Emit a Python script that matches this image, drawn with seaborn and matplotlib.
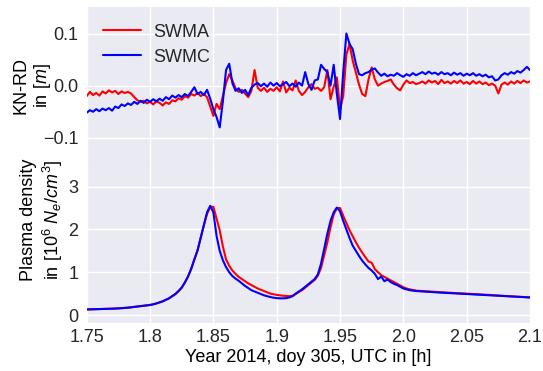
import numpy as np
import pandas as pd
import matplotlib
matplotlib.use("Agg")
import matplotlib.pyplot as plt
import seaborn as sns

# ---------------- data ----------------
time_h = np.linspace(1.75, 2.1, 141)  # UTC hours, uniform sampling

knrd_swma = [
    -0.020, -0.012, -0.018, -0.014, -0.019, -0.011, -0.015, -0.009, -0.013, -0.010,
    -0.016, -0.011, -0.014, -0.012, -0.015, -0.022, -0.028, -0.031, -0.029, -0.034,
    -0.031, -0.036, -0.030, -0.033, -0.038, -0.032, -0.035, -0.028, -0.030, -0.024,
    -0.027, -0.020, -0.023, -0.016, -0.019, -0.014, -0.020, -0.016, -0.022, -0.040,
    -0.058, -0.035, -0.045, -0.020, 0.005, 0.022, 0.010, -0.005, -0.012, -0.008,
    -0.015, -0.022, -0.010, 0.030, -0.004, -0.010, -0.004, -0.012, -0.006, -0.010,
    -0.003, -0.011, 0.008, -0.013, -0.004, -0.009, 0.010, -0.010, -0.018, -0.012,
    -0.003, 0.003, -0.006, -0.004, -0.010, -0.003, 0.030, -0.026, -0.002, 0.016,
    -0.045, -0.020, 0.060, 0.080, 0.048, 0.025, 0.002, -0.016, -0.020, 0.012,
    0.035, 0.012, 0.000, 0.004, 0.007, 0.009, 0.012, 0.002, -0.005, -0.009,
    0.002, 0.010, 0.005, 0.007, 0.003, 0.005, 0.008, 0.004, 0.010, 0.006,
    0.009, 0.003, 0.011, 0.005, 0.008, 0.004, 0.009, 0.005, 0.010, 0.004,
    0.007, 0.003, 0.009, 0.004, 0.008, 0.003, 0.006, 0.001, 0.004, 0.000,
    -0.015, 0.002, 0.006, 0.002, 0.008, 0.004, 0.009, 0.005, 0.010, 0.006, 0.008,
]

knrd_swmc = [
    -0.052, -0.047, -0.050, -0.045, -0.049, -0.044, -0.047, -0.043, -0.048, -0.040,
    -0.043, -0.036, -0.039, -0.034, -0.037, -0.031, -0.035, -0.029, -0.033, -0.027,
    -0.031, -0.026, -0.030, -0.025, -0.029, -0.022, -0.026, -0.019, -0.023, -0.018,
    -0.022, -0.016, -0.020, -0.012, -0.003, -0.016, -0.012, -0.018, -0.008, -0.025,
    -0.045, -0.060, -0.080, -0.030, 0.030, 0.042, 0.005, -0.010, -0.005, -0.014,
    -0.008, -0.018, -0.004, 0.002, 0.005, -0.001, 0.004, -0.002, 0.006, 0.000,
    0.005, -0.001, 0.003, 0.007, -0.001, 0.004, -0.002, 0.006, 0.000, 0.026,
    0.003, -0.008, 0.010, 0.012, 0.040, 0.032, 0.026, 0.000, 0.040, -0.016,
    -0.064, 0.025, 0.100, 0.080, 0.070, 0.042, 0.022, 0.020, 0.024, 0.026,
    0.031, 0.033, 0.025, 0.019, 0.023, 0.018, 0.021, 0.019, 0.024, 0.020,
    0.017, 0.022, 0.019, 0.024, 0.020, 0.023, 0.026, 0.022, 0.027, 0.023,
    0.025, 0.021, 0.026, 0.022, 0.024, 0.020, 0.025, 0.021, 0.024, 0.019,
    0.023, 0.020, 0.024, 0.019, 0.022, 0.018, 0.021, 0.016, 0.018, 0.010,
    0.012, 0.020, 0.024, 0.021, 0.026, 0.023, 0.028, 0.025, 0.030, 0.036, 0.030,
]

density_swma = [
    0.13, 0.132, 0.134, 0.136, 0.138, 0.14, 0.142, 0.145, 0.148, 0.151,
    0.155, 0.16, 0.165, 0.171, 0.18, 0.19, 0.198, 0.207, 0.215, 0.225,
    0.235, 0.25, 0.27, 0.295, 0.32, 0.355, 0.39, 0.44, 0.49, 0.56,
    0.64, 0.76, 0.90, 1.08, 1.30, 1.51, 1.80, 2.10, 2.36, 2.52,
    2.53, 2.25, 1.98, 1.60, 1.30, 1.15, 1.04, 0.96, 0.89, 0.84,
    0.79, 0.74, 0.70, 0.66, 0.62, 0.59, 0.56, 0.53, 0.50, 0.485,
    0.47, 0.46, 0.45, 0.445, 0.44, 0.45, 0.49, 0.54, 0.58, 0.64,
    0.70, 0.76, 0.82, 0.92, 1.10, 1.40, 1.70, 2.05, 2.35, 2.50,
    2.50, 2.32, 2.15, 1.98, 1.84, 1.70, 1.57, 1.46, 1.35, 1.25,
    1.22, 1.07, 1.00, 0.93, 0.89, 0.85, 0.81, 0.77, 0.73, 0.69,
    0.65, 0.62, 0.60, 0.585, 0.57, 0.565, 0.56, 0.555, 0.55, 0.545,
    0.54, 0.536, 0.532, 0.528, 0.524, 0.52, 0.516, 0.512, 0.508, 0.504,
    0.50, 0.496, 0.492, 0.488, 0.484, 0.48, 0.476, 0.472, 0.466, 0.46,
    0.455, 0.45, 0.446, 0.442, 0.438, 0.434, 0.43, 0.425, 0.42, 0.415, 0.41,
]

density_swmc = [
    0.13, 0.132, 0.134, 0.136, 0.138, 0.14, 0.142, 0.145, 0.148, 0.151,
    0.155, 0.16, 0.165, 0.171, 0.18, 0.19, 0.198, 0.207, 0.215, 0.225,
    0.235, 0.25, 0.27, 0.295, 0.32, 0.355, 0.39, 0.44, 0.49, 0.56,
    0.64, 0.76, 0.90, 1.08, 1.30, 1.51, 1.80, 2.10, 2.40, 2.55,
    2.40, 1.85, 1.50, 1.28, 1.12, 1.00, 0.91, 0.85, 0.80, 0.74,
    0.68, 0.63, 0.58, 0.55, 0.52, 0.49, 0.46, 0.44, 0.42, 0.405,
    0.395, 0.39, 0.39, 0.395, 0.41, 0.44, 0.50, 0.55, 0.60, 0.66,
    0.72, 0.78, 0.84, 0.95, 1.20, 1.55, 1.90, 2.20, 2.40, 2.51,
    2.42, 2.20, 2.00, 1.80, 1.62, 1.50, 1.38, 1.27, 1.18, 1.10,
    1.04, 0.96, 0.84, 0.90, 0.79, 0.83, 0.77, 0.73, 0.70, 0.66,
    0.62, 0.60, 0.58, 0.57, 0.56, 0.555, 0.55, 0.545, 0.54, 0.535,
    0.53, 0.526, 0.522, 0.518, 0.514, 0.51, 0.506, 0.502, 0.498, 0.494,
    0.49, 0.486, 0.482, 0.478, 0.474, 0.47, 0.466, 0.462, 0.458, 0.454,
    0.45, 0.446, 0.442, 0.438, 0.434, 0.43, 0.426, 0.422, 0.418, 0.414, 0.41,
]

x_ticks = [1.75, 1.8, 1.85, 1.9, 1.95, 2.0, 2.05, 2.1]
x_tick_labels = ["1.75", "1.8", "1.85", "1.9", "1.95", "2.0", "2.05", "2.1"]
top_y_ticks = [-0.1, 0.0, 0.1]
top_y_tick_labels = ["\u22120.1", "0.0", "0.1"]
bot_y_ticks = [0, 1, 2, 3]
bot_y_tick_labels = ["0", "1", "2", "3"]

# ---------------- style ----------------
sns.set_theme(style="darkgrid")
plt.rcParams["font.family"] = ["Liberation Sans", "DejaVu Sans"]
plt.rcParams["mathtext.fontset"] = "custom"
plt.rcParams["mathtext.rm"] = "Liberation Sans"
plt.rcParams["mathtext.it"] = "Liberation Sans:italic"
plt.rcParams["mathtext.bf"] = "Liberation Sans:bold"
FS = 13

fig = plt.figure(figsize=(5.43, 3.71), dpi=100)
left, right = 0.1597, 0.9761
mid = 0.5582
ax1 = fig.add_axes([left, mid, right - left, 0.980 - mid])
ax2 = fig.add_axes([left, 0.1307, right - left, mid - 0.1307], sharex=ax1)

df_top = pd.DataFrame({"t": time_h, "SWMA": knrd_swma, "SWMC": knrd_swmc})
df_bot = pd.DataFrame({"t": time_h, "SWMA": density_swma, "SWMC": density_swmc})

for name, col in [("SWMA", "red"), ("SWMC", "blue")]:
    sns.lineplot(data=df_top, x="t", y=name, ax=ax1, color=col, lw=1.5,
                 label=name, estimator=None, sort=False)
    sns.lineplot(data=df_bot, x="t", y=name, ax=ax2, color=col, lw=1.5,
                 legend=False, estimator=None, sort=False)

ax1.set_xlim(1.75, 2.1)
ax1.set_ylim(-0.15, 0.15)
ax2.set_ylim(-0.175, 3.53)

ax1.set_yticks(top_y_ticks)
ax1.set_yticklabels(top_y_tick_labels)
ax2.set_yticks(bot_y_ticks)
ax2.set_yticklabels(bot_y_tick_labels)
ax2.set_xticks(x_ticks)
ax2.set_xticklabels(x_tick_labels)
ax1.tick_params(axis="x", labelbottom=False)

for ax in (ax1, ax2):
    ax.tick_params(axis="both", labelsize=FS, length=0, colors="#262626")
    ax.tick_params(axis="y", pad=6)
    ax.tick_params(axis="x", pad=5)
    for s in ax.spines.values():
        s.set_visible(False)

ax1.set_xlabel("")
ax1.set_ylabel("KN-RD\nin [$m$]", fontsize=FS, color="black")
ax2.set_ylabel("Plasma density\nin [$10^6$ $N_e/cm^3$]", fontsize=FS, color="black")
ax2.set_xlabel("Year 2014, doy 305, UTC in [h]", fontsize=FS, color="black", labelpad=2)
ax1.yaxis.set_label_coords(-0.075, 0.5)
ax2.yaxis.set_label_coords(-0.049, 0.65)

leg = ax1.legend(loc="upper left", fontsize=FS, frameon=False, handlelength=2.1,
                 handletextpad=0.7, labelspacing=0.45, borderaxespad=0.5)
for t in leg.get_texts():
    t.set_color("#262626")

fig.savefig("out.png", dpi=100)
